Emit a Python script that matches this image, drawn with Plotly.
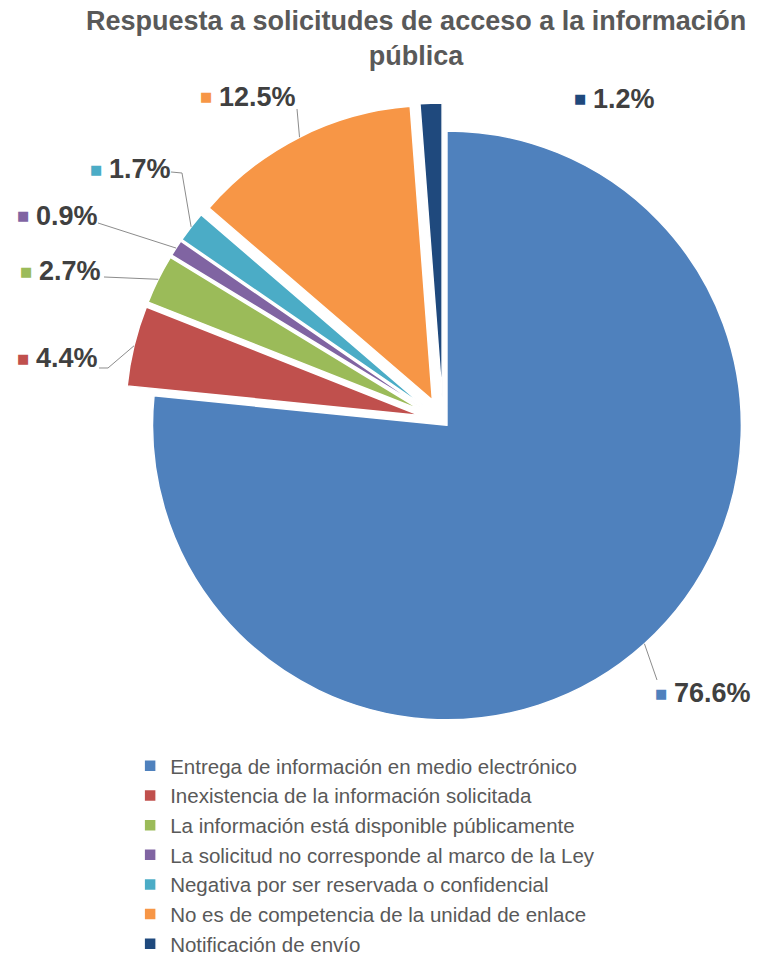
import math
import plotly.graph_objects as go

# ---- data ----
categories = [
    "Entrega de información en medio electrónico",
    "Inexistencia de la información solicitada",
    "La información está disponible públicamente",
    "La solicitud no corresponde al marco de la Ley",
    "Negativa por ser reservada o confidencial",
    "No es de competencia de la unidad de enlace",
    "Notificación de envío",
]
percentages = [76.6, 4.4, 2.7, 0.9, 1.7, 12.5, 1.2]
title_text = "Respuesta a solicitudes de acceso a la información<br>pública"

# ---- styles / layout ----
colors = ["#4F81BD", "#C0504D", "#9BBB59", "#8064A2", "#4BACC6", "#F79646", "#1F497D"]
pulls = [0.02, 0.08, 0.08, 0.08, 0.08, 0.08, 0.08]
W, H = 761, 959
cx, cy = 443, 421
box = 2 * (W - cx)
dom_x = [(cx - box / 2) / W, 1.0]
dom_y = [1 - (cy + box / 2) / H, 1 - (cy - box / 2) / H]
r = box / (2 + 2 * max(pulls))

# label anchor (left of marker square), pixel coords
label_pos = [(653, 693), (15, 358), (18, 271), (15, 216), (88, 169), (198, 97), (572, 99)]
# leader line points on label side (pixel coords); slice end computed
leader_pts = [[(657, 680)], [(99, 368), (108, 368)], [(104, 277)], [(98, 223)],
              [(171, 172), (182, 173)], [(297, 109)], []]

fig = go.Figure(go.Pie(
    labels=categories, values=percentages, sort=False, direction="clockwise",
    rotation=0, pull=pulls, textinfo="none",
    marker=dict(colors=colors, line=dict(color="white", width=1.5)),
    domain=dict(x=dom_x, y=dom_y),
))

def px(x):
    return x / W

def py(y):
    return 1 - y / H

total = sum(percentages)
annotations = []
shapes = []
cum = 0.0
for i, v in enumerate(percentages):
    mid = (cum + v / 2) / total * 2 * math.pi
    cum += v
    dx, dy = math.sin(mid), -math.cos(mid)
    rr = r * (1 + pulls[i])
    ex, ey = cx + rr * dx, cy + rr * dy
    lx, ly = label_pos[i]
    annotations.append(dict(x=px(lx), y=py(ly), xref="paper", yref="paper",
                            xanchor="left", yanchor="middle", showarrow=False,
                            text="■", font=dict(size=13, color=colors[i],
                                                family="DejaVu Sans")))
    annotations.append(dict(x=px(lx + 19), y=py(ly), xref="paper", yref="paper",
                            xanchor="left", yanchor="middle", showarrow=False,
                            text=f"<b>{v:.1f}%</b>",
                            font=dict(size=27, color="#404040",
                                      family="Liberation Sans, Arial")))
    pts = leader_pts[i]
    if pts:
        path_pts = pts + [(ex, ey)]
        d = "M " + " L ".join(f"{px(x):.5f},{py(y):.5f}" for x, y in path_pts)
        shapes.append(dict(type="path", xref="paper", yref="paper", path=d,
                           line=dict(color="#8c8c8c", width=1)))

annotations.append(dict(x=px(416), y=py(4), xref="paper", yref="paper",
                        xanchor="center", yanchor="top", showarrow=False,
                        text=f"<b>{title_text}</b>",
                        font=dict(size=27, color="#595959",
                                  family="Liberation Sans, Arial")))

fig.update_layout(
    width=W, height=H,
    margin=dict(l=0, r=0, t=0, b=0, autoexpand=False),
    paper_bgcolor="white", plot_bgcolor="white",
    showlegend=True,
    legend=dict(x=0.171, y=1 - 746 / H, xanchor="left", yanchor="top",
                orientation="v", font=dict(size=20.5, color="#595959",
                                           family="Liberation Sans, Arial"),
                bgcolor="rgba(0,0,0,0)"),
    annotations=annotations,
    shapes=shapes,
)

fig.write_html("out.html", config={"displayModeBar": False},
               post_script="document.body.style.margin='0';")
